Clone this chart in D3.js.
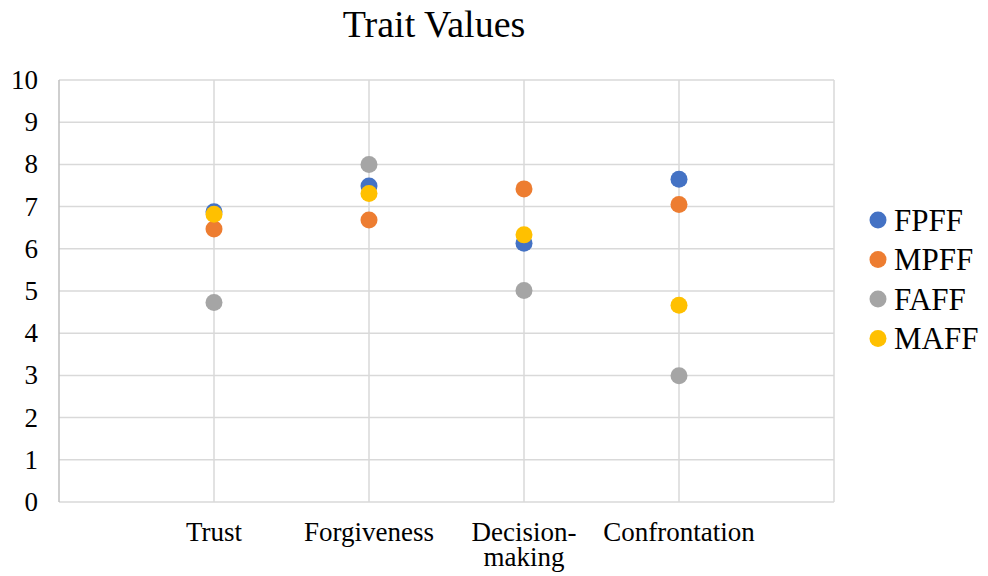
<!DOCTYPE html>
<html>
<head>
<meta charset="utf-8">
<script src="https://cdn.jsdelivr.net/npm/d3@7"></script>
<style>
  body { margin: 0; background: #fff; }
  svg text, svg tspan { font-family: "Liberation Serif", "DejaVu Serif", serif; fill: #000; }
</style>
</head>
<body>
<svg width="988" height="576"></svg>
<script>
// data
const categories = ['Trust', 'Forgiveness', 'Decision-making', 'Confrontation'];
const seriesNames = ['FPFF', 'MPFF', 'FAFF', 'MAFF'];
const FPFF = [6.88, 7.49, 6.13, 7.65];
const MPFF = [6.47, 6.68, 7.42, 7.05];
const FAFF = [4.73, 8.0, 5.01, 2.99];
const MAFF = [6.82, 7.31, 6.33, 4.66];
const yTicks = [0, 1, 2, 3, 4, 5, 6, 7, 8, 9, 10];
const colors = ['#4472C4', '#ED7D31', '#A5A5A5', '#FFC000'];

const svg = d3.select('svg');
const serif = '"Liberation Serif", "DejaVu Serif", serif';

const margin = { top: 80, left: 59, right: 154, bottom: 74 };
const width = +svg.attr('width');
const height = +svg.attr('height');

// x: categories sit at 1..4 on a 0..5 scale
const xScale = d3.scaleLinear()
  .domain([0, categories.length + 1])
  .range([margin.left, width - margin.right]);

const yScale = d3.scaleLinear()
  .domain([0, 10])
  .range([height - margin.bottom, margin.top]);

// title
svg.append('text')
  .attr('x', 434)
  .attr('y', 37)
  .attr('text-anchor', 'middle')
  .attr('font-family', serif)
  .attr('font-size', 38)
  .text('Trait Values');

// horizontal gridlines
svg.append('g')
  .selectAll('line').data(yTicks)
  .enter().append('line')
  .attr('x1', xScale(0))
  .attr('x2', xScale(categories.length + 1))
  .attr('y1', d => yScale(d))
  .attr('y2', d => yScale(d))
  .attr('stroke', '#d9d9d9')
  .attr('stroke-width', 1.5);

// vertical gridlines at the categories and the right edge
svg.append('g')
  .selectAll('line').data(d3.range(1, categories.length + 2))
  .enter().append('line')
  .attr('x1', d => xScale(d))
  .attr('x2', d => xScale(d))
  .attr('y1', yScale(0))
  .attr('y2', yScale(10))
  .attr('stroke', '#d9d9d9')
  .attr('stroke-width', 1.5);

// left axis line
svg.append('line')
  .attr('x1', xScale(0)).attr('x2', xScale(0))
  .attr('y1', yScale(0)).attr('y2', yScale(10))
  .attr('stroke', '#bfbfbf')
  .attr('stroke-width', 1.5);

// y tick labels
svg.append('g')
  .selectAll('text').data(yTicks)
  .enter().append('text')
  .attr('x', 38)
  .attr('y', d => yScale(d))
  .attr('dy', '0.33em')
  .attr('text-anchor', 'end')
  .attr('font-family', serif)
  .attr('font-size', 27)
  .text(d => d);

// category labels, wrapped after a hyphen
const catLabels = svg.append('g')
  .selectAll('text').data(categories)
  .enter().append('text')
  .attr('x', (d, i) => xScale(i + 1))
  .attr('y', 541)
  .attr('text-anchor', 'middle')
  .attr('font-family', serif)
  .attr('font-size', 27);

catLabels.each(function (d) {
  const cut = d.indexOf('-');
  const parts = cut >= 0 ? [d.slice(0, cut + 1), d.slice(cut + 1)] : [d];
  const t = d3.select(this);
  parts.forEach((p, k) => {
    t.append('tspan')
      .attr('x', t.attr('x'))
      .attr('dy', k === 0 ? 0 : 25)
      .attr('font-family', serif)
      .text(p);
  });
});

// points
const allSeries = [FPFF, MPFF, FAFF, MAFF];
allSeries.forEach((values, s) => {
  svg.append('g')
    .selectAll('circle').data(values)
    .enter().append('circle')
    .attr('cx', (d, i) => xScale(i + 1))
    .attr('cy', d => yScale(d))
    .attr('r', 8.5)
    .attr('fill', colors[s]);
});

// legend
const legend = svg.append('g')
  .selectAll('g').data(seriesNames)
  .enter().append('g')
  .attr('transform', (d, i) => `translate(878, ${220 + i * 39.5})`);

legend.append('circle')
  .attr('r', 8.5)
  .attr('fill', (d, i) => colors[i]);

legend.append('text')
  .attr('x', 16)
  .attr('dy', '0.35em')
  .attr('font-family', serif)
  .attr('font-size', 31)
  .text(d => d);
</script>
</body>
</html>
